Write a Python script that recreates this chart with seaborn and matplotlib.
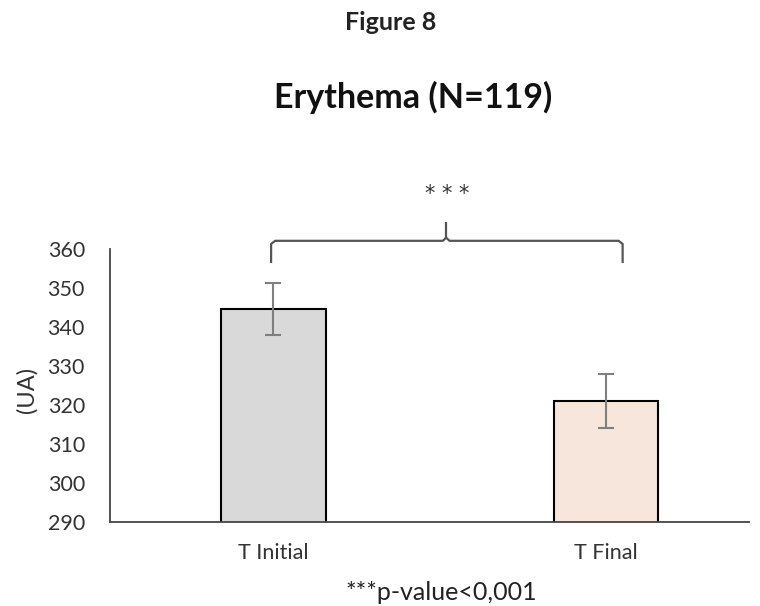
import matplotlib
matplotlib.use("Agg")
import matplotlib.pyplot as plt
import seaborn as sns
import pandas as pd

categories = ["T Initial", "T Final"]
means = [344.6, 321.0]
errors = [6.7, 6.9]
colors = ["#D9D9D9", "#FBE5D6"]
yticks = [290, 300, 310, 320, 330, 340, 350, 360]

sns.set_theme(style="white")
plt.rcParams['font.family'] = ['Lato', 'DejaVu Sans']

df = pd.DataFrame({"time": categories, "value": means})

fig = plt.figure(figsize=(7.6, 6.06), dpi=100)
ax = fig.add_axes([0.1447, 0.1386, 0.841, 0.4505])

sns.barplot(data=df, x="time", y="value", hue="time", palette=colors,
            width=0.315, edgecolor="black", linewidth=1.5, ax=ax,
            legend=False, errorbar=None)
ax.errorbar(range(len(categories)), means, yerr=errors, fmt="none",
            ecolor="#7f7f7f", elinewidth=1.5, capsize=6, capthick=1.5)

ax.set_ylim(290, 360)
ax.set_xlim(-0.49, 1.43)
ax.set_yticks(yticks)
ax.tick_params(axis="both", length=0, labelsize=15.5, colors="#333333")
ax.tick_params(axis="y", pad=18)
ax.tick_params(axis="x", pad=15)
ax.set_xlabel("")
ax.set_ylabel("")
fig.text(27 / 760, 1 - 390 / 606, "(UA)", rotation=90, ha="center", va="center",
         fontsize=17, color="#333333")
for s in ["top", "right"]:
    ax.spines[s].set_visible(False)
for s in ["left", "bottom"]:
    ax.spines[s].set_color("#444444")
    ax.spines[s].set_linewidth(1.3)

# bracket
bx0, bx1, bxm = -0.006, 1.05, 0.52
yh, ye, yt = 362.1, 356.4, 366.9
r = 0.8
kw = dict(color="#555555", lw=1.6, clip_on=False, solid_capstyle="butt")
ax.plot([bx0, bx0, bx0 + 0.012, bxm - 0.01, bxm, bxm + 0.01, bx1 - 0.012, bx1, bx1],
        [ye, yh - r, yh, yh, yh + r, yh, yh, yh - r, ye], **kw)
ax.plot([bxm, bxm], [yh + r, yt], **kw)
fig.text(447 / 760, 1 - 194 / 606, "* * *", ha="center", va="center",
         fontsize=15, color="#333333", family=["DejaVu Sans"])

fig.text(391 / 760, 1 - 22 / 606, "Figure 8", ha="center", va="center", fontsize=18,
         fontweight="bold", color="#222222")
fig.text(413 / 760, 1 - 97 / 606, "Erythema (N=119)", ha="center", va="center",
         fontsize=24.5, fontweight="bold", color="#111111")
fig.text(441 / 760, 1 - 592 / 606, "***p-value<0,001", ha="center", va="center",
         fontsize=18, color="#222222")

fig.savefig("out.png", dpi=100)
